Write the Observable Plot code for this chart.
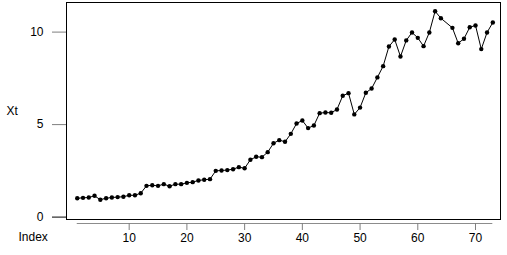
<!DOCTYPE html>
<html>
<head>
<meta charset="utf-8">
<script src="https://cdn.jsdelivr.net/npm/d3@7"></script>
<script src="https://cdn.jsdelivr.net/npm/@observablehq/plot@0.6"></script>
<style>
  html, body { margin: 0; padding: 0; background: #fff; }
  #chart svg { display: block; }
</style>
</head>
<body>
<div id="chart"></div>
<script>
const index = [1,2,3,4,5,6,7,8,9,10,11,12,13,14,15,16,17,18,19,20,21,22,23,24,25,26,27,28,29,30,31,32,33,34,35,36,37,38,39,40,41,42,43,44,45,46,47,48,49,50,51,52,53,54,55,56,57,58,59,60,61,62,63,64,65,66,67,68,69,70,71,72,73];
const xt = [1.02,1.04,1.06,1.15,0.94,1.02,1.06,1.08,1.10,1.18,1.18,1.29,1.69,1.72,1.69,1.78,1.67,1.78,1.78,1.85,1.89,1.98,2.02,2.05,2.50,2.52,2.54,2.59,2.70,2.64,3.10,3.26,3.24,3.51,3.99,4.16,4.07,4.50,5.06,5.22,4.81,4.95,5.62,5.65,5.64,5.82,6.56,6.70,5.55,5.92,6.72,6.95,7.55,8.16,9.22,9.60,8.68,9.55,9.98,9.69,9.24,9.98,11.13,10.75,null,10.23,9.40,9.64,10.26,10.36,9.08,9.98,10.52];
const xTicks = [10,20,30,40,50,60,70];
const yTicks = [5,10];
const yZero = [0];

const data = index.map((d, i) => ({index: d, xt: xt[i]})).filter(d => d.xt != null);

const chart = Plot.plot({
  width: 507,
  height: 255,
  marginLeft: 66,
  marginRight: 7,
  marginTop: 2,
  marginBottom: 36,
  style: {fontFamily: "'Liberation Sans', Arial, sans-serif", fontSize: "12px", color: "#000", background: "#fff"},
  x: {domain: [-0.86, 74.33]},
  y: {domain: [-0.13, 11.6]},
  marks: [
    Plot.frame({stroke: "#000"}),
    Plot.axisY({ticks: yTicks, tickSize: 14, tickPadding: 9, stroke: "#7f7f7f", fill: "#000", label: null, fontSize: 12}),
    Plot.axisY({ticks: yZero, tickSize: 14, tickPadding: 9, stroke: "#000", fill: "#000", label: null, fontSize: 12}),
    Plot.ruleY([0], {x1: 1, x2: 73, y: () => 0, dy: 3 + 18.5 * 0.13 + 1, stroke: "#8c8c8c", clip: false}),
    Plot.axisX({ticks: xTicks, tickSize: 7, tickPadding: 3, dy: 4, stroke: "#7f7f7f", fill: "#000", label: null, fontSize: 12}),
    Plot.line(data, {x: "index", y: "xt", stroke: "#000", strokeWidth: 1}),
    Plot.dot(data, {x: "index", y: "xt", r: 2.2, fill: "#000", stroke: "none"}),
    Plot.text(["Xt"], {frameAnchor: "left", dx: -60, text: d => d, fill: "#000", fontSize: 12, textAnchor: "start"}),
    Plot.text(["Index"], {frameAnchor: "bottom-left", dx: -48, dy: 21, text: d => d, fill: "#000", fontSize: 12, textAnchor: "start"})
  ]
});
document.getElementById("chart").appendChild(chart);
</script>
</body>
</html>
